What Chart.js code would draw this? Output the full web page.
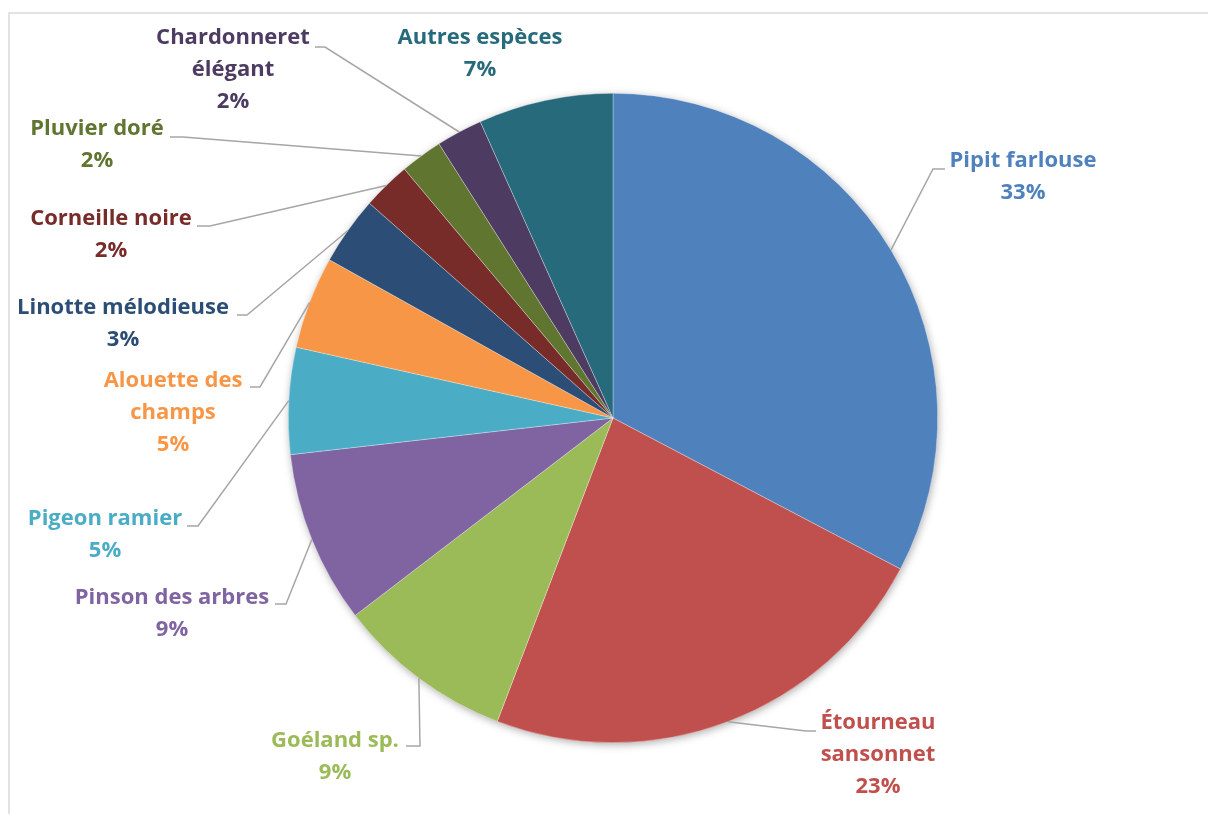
<!DOCTYPE html>
<html>
<head>
<meta charset="utf-8">
<script src="https://cdn.jsdelivr.net/npm/chart.js@4/dist/chart.umd.min.js"></script>
<style>
  html, body { margin: 0; padding: 0; background: #ffffff; }
  #wrap { width: 1208px; height: 814px; position: relative; }
</style>
</head>
<body>
<div id="wrap"><canvas id="c" width="1208" height="814"></canvas></div>
<script>
// ---- Data ----
const species = [
  ["Pipit farlouse"],
  ["Étourneau", "sansonnet"],
  ["Goéland sp."],
  ["Pinson des arbres"],
  ["Pigeon ramier"],
  ["Alouette des", "champs"],
  ["Linotte mélodieuse"],
  ["Corneille noire"],
  ["Pluvier doré"],
  ["Chardonneret", "élégant"],
  ["Autres espèces"]
];
const shares = [32.7, 23.1, 8.8, 8.6, 5.3, 4.6, 3.4, 2.4, 2.1, 2.3, 6.7];
const sliceColors = [
  "#4F81BD", "#C0504D", "#9BBB59", "#8064A2", "#4BACC6", "#F79646",
  "#2C4D75", "#772C2A", "#5F7530", "#4D3B62", "#276A7C"
];

// ---- Label layout (offsets from pie centre, px): text centre, first line y, leader elbow & end ----
const labelLayout = [
  { tx: 410,  ty: -257, elbow: [320, -249], end: [332, -249] },
  { tx: 265,  ty: 305,  elbow: [193, 313],  end: [203, 313] },
  { tx: -278, ty: 323,  elbow: [-193, 328], end: [-207, 328] },
  { tx: -441, ty: 180,  elbow: [-327, 186], end: [-338, 186] },
  { tx: -508, ty: 101,  elbow: [-415, 108], end: [-426, 108] },
  { tx: -440, ty: -37,  elbow: [-353, -31], end: [-363, -31] },
  { tx: -490, ty: -110, elbow: [-366, -103], end: [-376, -103] },
  { tx: -502, ty: -199, elbow: [-403, -192], end: [-416, -192] },
  { tx: -516, ty: -289, elbow: [-430, -281], end: [-443, -281] },
  { tx: -380, ty: -380, elbow: [-288, -371], end: [-298, -371] },
  { tx: -133, ty: -380, elbow: null, end: null }
];

const FONT = "bold 22px 'Open Sans', Lato, sans-serif";
const LINE_H = 32;

const framePlugin = {
  id: 'frame',
  beforeDraw(chart) {
    const ctx = chart.ctx;
    ctx.save();
    ctx.fillStyle = '#ffffff';
    ctx.fillRect(0, 0, chart.width, chart.height);
    ctx.strokeStyle = '#d9d9d9';
    ctx.lineWidth = 1.5;
    ctx.beginPath();
    ctx.moveTo(9, chart.height);
    ctx.lineTo(9, 13);
    ctx.lineTo(chart.width, 13);
    ctx.stroke();
    ctx.restore();
  }
};

const shadowPlugin = {
  id: 'pieShadow',
  beforeDatasetsDraw(chart) {
    const arc = chart.getDatasetMeta(0).data[0];
    if (!arc) return;
    const ctx = chart.ctx;
    ctx.save();
    ctx.shadowColor = 'rgba(0,0,0,0.35)';
    ctx.shadowBlur = 9;
    ctx.shadowOffsetX = 1;
    ctx.shadowOffsetY = 2;
    ctx.fillStyle = '#ffffff';
    ctx.beginPath();
    ctx.arc(arc.x, arc.y, arc.outerRadius - 0.5, 0, Math.PI * 2);
    ctx.fill();
    ctx.restore();
  }
};

const labelPlugin = {
  id: 'outLabels',
  afterDatasetsDraw(chart) {
    const meta = chart.getDatasetMeta(0);
    const ctx = chart.ctx;
    const total = shares.reduce((a, b) => a + b, 0);
    ctx.save();
    meta.data.forEach((arc, i) => {
      const cx = arc.x, cy = arc.y;
      const lay = labelLayout[i];
      const mid = (arc.startAngle + arc.endAngle) / 2;
      if (lay.elbow) {
        const sx = cx + Math.cos(mid) * arc.outerRadius;
        const sy = cy + Math.sin(mid) * arc.outerRadius;
        ctx.strokeStyle = '#a6a6a6';
        ctx.lineWidth = 1.5;
        ctx.beginPath();
        ctx.moveTo(sx, sy);
        ctx.lineTo(cx + lay.elbow[0], cy + lay.elbow[1]);
        ctx.lineTo(cx + lay.end[0], cy + lay.end[1]);
        ctx.stroke();
      }
      const lines = species[i].concat([Math.round(shares[i] / total * 100) + '%']);
      ctx.font = FONT;
      ctx.fillStyle = sliceColors[i];
      ctx.textAlign = 'center';
      ctx.textBaseline = 'middle';
      lines.forEach((t, k) => {
        ctx.fillText(t, cx + lay.tx, cy + lay.ty + k * LINE_H);
      });
    });
    ctx.restore();
  }
};

new Chart(document.getElementById('c'), {
  type: 'pie',
  data: {
    labels: species.map(s => s.join(' ')),
    datasets: [{
      data: shares,
      backgroundColor: sliceColors,
      borderColor: 'rgba(255,255,255,0.5)',
      borderWidth: 0.6
    }]
  },
  options: {
    responsive: false,
    animation: false,
    layout: { padding: { top: 93, bottom: 71, left: 288, right: 270 } },
    plugins: {
      legend: { display: false },
      tooltip: { enabled: false },
      title: { display: false }
    }
  },
  plugins: [framePlugin, shadowPlugin, labelPlugin]
});
</script>
</body>
</html>
